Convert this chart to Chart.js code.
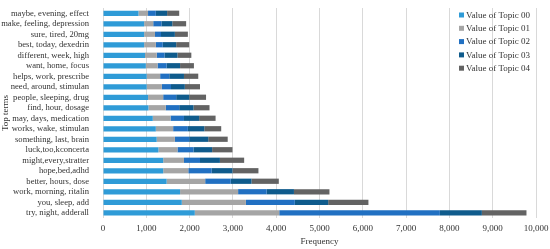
<!DOCTYPE html>
<html lang="en">
  <head>
    <meta charset="UTF-8" />
    <title>Top terms by topic</title>
    <script src="https://cdn.jsdelivr.net/npm/chart.js"></script>
    <style>
      body {
        margin: 0;
        padding: 0;
        background: #fff;
      }
      .chart-box {
        position: relative;
        width: 550px;
        height: 249px;
      }
    </style>
  </head>
  <body>
    <div class="chart-box">
      <canvas id="termsChart"></canvas>
    </div>

    <script>
      // categories, top row of the picture first
      var terms = [
        "maybe, evening, effect",
        "make, feeling, depression",
        "sure, tired, 20mg",
        "best, today, dexedrin",
        "different, week, high",
        "want, home, focus",
        "helps, work, prescribe",
        "need, around, stimulan",
        "people, sleeping, drug",
        "find, hour, dosage",
        "may, days, medication",
        "works, wake, stimulan",
        "something, last, brain",
        "luck,too,kconcerta",
        "might,every,stratter",
        "hope,bed,adhd",
        "better, hours, dose",
        "work, morning, ritalin",
        "you, sleep, add",
        "try, night, adderall",
      ];

      var topic00 = [820, 950, 950, 950, 970, 990, 1010, 1010, 1040, 1050, 1150, 1220, 1240, 1280, 1390, 1390, 1470, 1780, 1820, 2120];
      var topic01 = [220, 210, 250, 270, 270, 270, 310, 350, 350, 400, 410, 400, 420, 440, 480, 580, 890, 1340, 1480, 1950];
      var topic02 = [180, 190, 140, 160, 180, 210, 210, 210, 300, 310, 310, 340, 330, 370, 370, 540, 590, 660, 1130, 3710];
      var topic03 = [260, 250, 320, 310, 300, 310, 340, 320, 300, 330, 350, 380, 440, 430, 460, 480, 480, 630, 770, 970];
      var topic04 = [280, 320, 300, 300, 320, 320, 330, 350, 390, 370, 380, 390, 450, 470, 560, 600, 630, 820, 930, 1030];

      var seriesNames = ["Value of Topic 00", "Value of Topic 01", "Value of Topic 02", "Value of Topic 03", "Value of Topic 04"];
      var seriesColors = ["#2f9bd7", "#a5a5a5", "#2170c2", "#0f5b8c", "#636363"];
      var xTicks = [0, 1000, 2000, 3000, 4000, 5000, 6000, 7000, 8000, 9000, 10000];

      var serif = "'Liberation Serif', 'Times New Roman', serif";
      var textColor = "#333333";

      // legend drawn inside the plot area, like the Excel original
      var insideLegend = {
        id: "insideLegend",
        afterDraw: function (chart) {
          var ctx = chart.ctx;
          ctx.save();
          ctx.font = "9px " + serif;
          ctx.textBaseline = "middle";
          ctx.textAlign = "left";
          chart.data.datasets.forEach(function (ds, i) {
            var y = 15 + i * 13.3;
            ctx.fillStyle = ds.backgroundColor;
            ctx.fillRect(459, y - 2.5, 5, 5);
            ctx.fillStyle = textColor;
            ctx.fillText(ds.label, 466, y + 0.5);
          });
          ctx.restore();
        },
      };

      var datasets = [topic00, topic01, topic02, topic03, topic04].map(function (vals, i) {
        return {
          label: seriesNames[i],
          data: vals,
          backgroundColor: seriesColors[i],
          borderWidth: 0,
          barPercentage: 0.5,
          categoryPercentage: 1,
        };
      });

      var ctx = document.getElementById("termsChart").getContext("2d");
      var termsChart = new Chart(ctx, {
        type: "bar",
        data: { labels: terms, datasets: datasets },
        plugins: [insideLegend],
        options: {
          indexAxis: "y",
          responsive: true,
          maintainAspectRatio: false,
          animation: false,
          layout: { padding: { left: 0, right: 14, top: 8, bottom: 0 } },
          plugins: {
            legend: { display: false },
            tooltip: { enabled: false },
          },
          scales: {
            x: {
              stacked: true,
              min: 0,
              max: 10000,
              afterBuildTicks: function (scale) {
                scale.ticks = xTicks.map(function (v) {
                  return { value: v };
                });
              },
              afterFit: function (scale) {
                scale.height = 31;
                scale.paddingLeft = 0;
                scale.paddingRight = 0;
              },
              ticks: {
                color: textColor,
                font: { family: serif, size: 9 },
                padding: 5,
                maxRotation: 0,
                callback: function (v) {
                  return v.toLocaleString("en-US");
                },
              },
              grid: { color: "#d9d9d9", drawTicks: false },
              border: { display: false },
              title: {
                display: true,
                text: "Frequency",
                color: textColor,
                font: { family: serif, size: 9 },
                padding: { top: 0, bottom: 2 },
              },
            },
            y: {
              stacked: true,
              afterFit: function (scale) {
                scale.width = 103;
                scale.paddingTop = 0;
                scale.paddingBottom = 0;
              },
              ticks: {
                color: textColor,
                font: { family: serif, size: 8.6 },
                padding: 6,
                autoSkip: false,
              },
              grid: { display: false },
              border: { display: false },
              title: {
                display: true,
                text: "Top terms",
                color: textColor,
                font: { family: serif, size: 9 },
                padding: { top: 0, bottom: 0 },
              },
            },
          },
        },
      });
    </script>
  </body>
</html>
